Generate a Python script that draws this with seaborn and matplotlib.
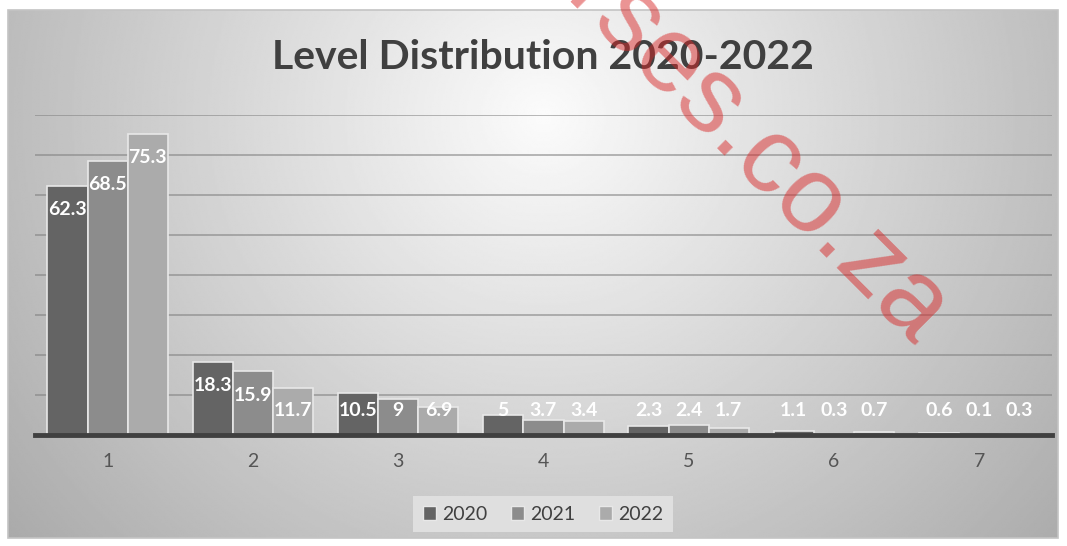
import numpy as np
import pandas as pd
import matplotlib
matplotlib.use("Agg")
import matplotlib.pyplot as plt
import seaborn as sns
from matplotlib.patches import Rectangle, Patch

levels = ["1", "2", "3", "4", "5", "6", "7"]
years = ["2020", "2021", "2022"]
pct_2020 = [62.3, 18.3, 10.5, 5, 2.3, 1.1, 0.6]
pct_2021 = [68.5, 15.9, 9, 3.7, 2.4, 0.3, 0.1]
pct_2022 = [75.3, 11.7, 6.9, 3.4, 1.7, 0.7, 0.3]
label_2020 = ["62.3", "18.3", "10.5", "5", "2.3", "1.1", "0.6"]
label_2021 = ["68.5", "15.9", "9", "3.7", "2.4", "0.3", "0.1"]
label_2022 = ["75.3", "11.7", "6.9", "3.4", "1.7", "0.7", "0.3"]

series = {"2020": pct_2020, "2021": pct_2021, "2022": pct_2022}
labels = {"2020": label_2020, "2021": label_2021, "2022": label_2022}
df = pd.DataFrame(
    [(lv, yr, v) for yr in years for lv, v in zip(levels, series[yr])],
    columns=["level", "year", "value"],
)
colors = ["#646464", "#8c8c8c", "#ababab"]

sns.set_style("white")
plt.rcParams["font.family"] = ["Lato", "DejaVu Sans"]

fig = plt.figure(figsize=(10.67, 5.46), dpi=100)
fig.patch.set_facecolor("white")

# chart area with soft radial gradient
bg = fig.add_axes([0.0075, 0.0147, 0.984, 0.967])
ny, nx = 300, 600
yy, xx = np.mgrid[0:1:ny * 1j, 0:1:nx * 1j]
r = np.sqrt(((xx - 0.51) / 0.5) ** 2 + ((yy - 0.2) / 0.95) ** 2)
shade = np.clip(0.985 - 0.24 * r, 0.6, 1.0)
bg.imshow(shade, cmap="gray", vmin=0, vmax=1, aspect="auto",
          extent=[0, 1, 1, 0], interpolation="bilinear")
bg.set_axis_off()
fig.patches.append(Rectangle((0.0075, 0.0147), 0.984, 0.967, transform=fig.transFigure,
                             fill=False, edgecolor="#c4c4c4", lw=1.2, zorder=5))

ax = fig.add_axes([0.0328, 0.2033, 0.953, 0.586])
ax.patch.set_alpha(0)
sns.barplot(data=df, x="level", y="value", hue="year", order=levels, hue_order=years,
            palette=colors, width=0.83, edgecolor="#e8e8e8", linewidth=1.2,
            legend=False, ax=ax, zorder=3)

ax.set_ylim(0, 80)
ax.set_xlim(-0.5, 6.5)
ax.set_yticks(np.arange(10, 81, 10))
ax.yaxis.grid(True, color="#808080", lw=1.3, alpha=0.6, zorder=0)
ax.set_axisbelow(True)
ax.set_yticklabels([])
ax.tick_params(axis="both", length=0)
ax.tick_params(axis="x", pad=13, labelsize=14, labelcolor="#555555")
ax.set_xlabel("")
ax.set_ylabel("")
for s in ["top", "right", "left"]:
    ax.spines[s].set_visible(False)
ax.spines["bottom"].set_color("#404040")
ax.spines["bottom"].set_linewidth(3.5)
ax.spines["bottom"].set_zorder(4)

for cont, yr in zip(ax.containers, years):
    for bar, v, txt in zip(cont, series[yr], labels[yr]):
        cx = bar.get_x() + bar.get_width() / 2
        ax.text(cx, max(v - 5.9, 6.1), txt, ha="center", va="center",
                color="white", fontsize=14, fontweight="bold", zorder=6)

fig.text(0.509, 0.895, "Level Distribution 2020-2022", ha="center", va="center",
         fontsize=29.5, fontweight="bold", color="#404040")

handles = [Patch(facecolor=c, edgecolor="#e8e8e8", lw=1) for c in colors]
leg = fig.legend(handles, years, loc="center", bbox_to_anchor=(0.509, 0.0586),
                 ncol=3, frameon=True, fancybox=False, fontsize=14,
                 handlelength=0.7, handleheight=0.7, handletextpad=0.3,
                 columnspacing=1.2, borderpad=0.5)
leg.get_frame().set_facecolor("#e2e2e2")
leg.get_frame().set_edgecolor("none")
leg.get_frame().set_alpha(0.9)
for t in leg.get_texts():
    t.set_color("#404040")

# watermark
fig.text(0.855, 0.36, "courses.co.za", rotation=-45, rotation_mode="anchor",
         ha="right", va="baseline", fontsize=78, color="#d82828", alpha=0.5,
         family="Liberation Sans", zorder=10)

fig.savefig("out.png", dpi=100)
